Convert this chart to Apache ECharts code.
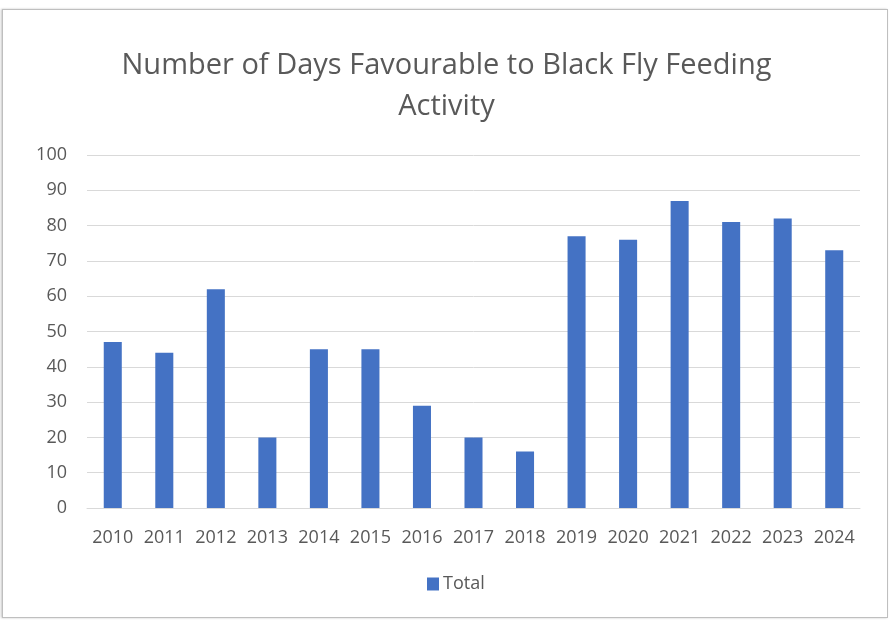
<!DOCTYPE html>
<html>
<head>
<meta charset="utf-8">
<script src="https://cdn.jsdelivr.net/npm/echarts@6/dist/echarts.min.js"></script>
<style>
  html, body { margin: 0; padding: 0; background: #ffffff; }
  #frame {
    position: absolute; left: 2px; top: 9px; width: 884px; height: 607px;
    border: 1px solid #bfbfbf; box-shadow: -1px 0 2px #c8c8c8;
    background: #ffffff;
  }
  #chart { position: absolute; left: 0; top: 0; width: 893px; height: 631px; }
</style>
</head>
<body>
<div id="frame"></div>
<div id="chart"></div>
<script>
// Years on the category axis
const years = ['2010', '2011', '2012', '2013', '2014', '2015', '2016', '2017',
               '2018', '2019', '2020', '2021', '2022', '2023', '2024'];
// Days favourable to black fly feeding per year
const totalDays = [47, 44, 62, 20, 45, 45, 29, 20, 16, 77, 76, 87, 81, 82, 73];
// Value-axis range and step
const yMin = 0;
const yMax = 100;
const yStep = 10;

const font = '"Open Sans", "Liberation Sans", sans-serif';
const textColor = '#595959';

const chart = echarts.init(document.getElementById('chart'), null, { renderer: 'canvas' });
chart.setOption({
  backgroundColor: 'transparent',
  animation: false,
  title: {
    text: 'Number of Days Favourable to Black Fly Feeding\nActivity',
    left: 'center',
    top: 40,
    textStyle: {
      fontFamily: font,
      fontSize: 29,
      fontWeight: 'normal',
      color: textColor,
      lineHeight: 41
    }
  },
  legend: {
    data: [{ name: 'Total', icon: 'rect' }],
    bottom: 33,
    left: 422,
    itemWidth: 12,
    itemHeight: 13,
    itemGap: 4,
    textStyle: { fontFamily: font, fontSize: 18, color: textColor, padding: [0, 0, 0, -1] }
  },
  grid: {
    left: 87,
    right: 33,
    top: 155,
    bottom: 123,
    containLabel: false
  },
  xAxis: {
    type: 'category',
    data: years,
    axisLine: { show: true, lineStyle: { color: '#d9d9d9', width: 1 } },
    axisTick: { show: false },
    axisLabel: {
      fontFamily: font, fontSize: 18, color: textColor, margin: 21, interval: 0
    }
  },
  yAxis: {
    type: 'value',
    min: yMin,
    max: yMax,
    interval: yStep,
    axisLine: { show: false },
    axisTick: { show: false },
    splitLine: { lineStyle: { color: '#d9d9d9', width: 1 } },
    axisLabel: {
      fontFamily: font, fontSize: 18, color: textColor, margin: 20
    }
  },
  series: [{
    name: 'Total',
    type: 'bar',
    data: totalDays,
    barWidth: '35%',
    itemStyle: { color: '#4472c4' }
  }]
});
</script>
</body>
</html>
